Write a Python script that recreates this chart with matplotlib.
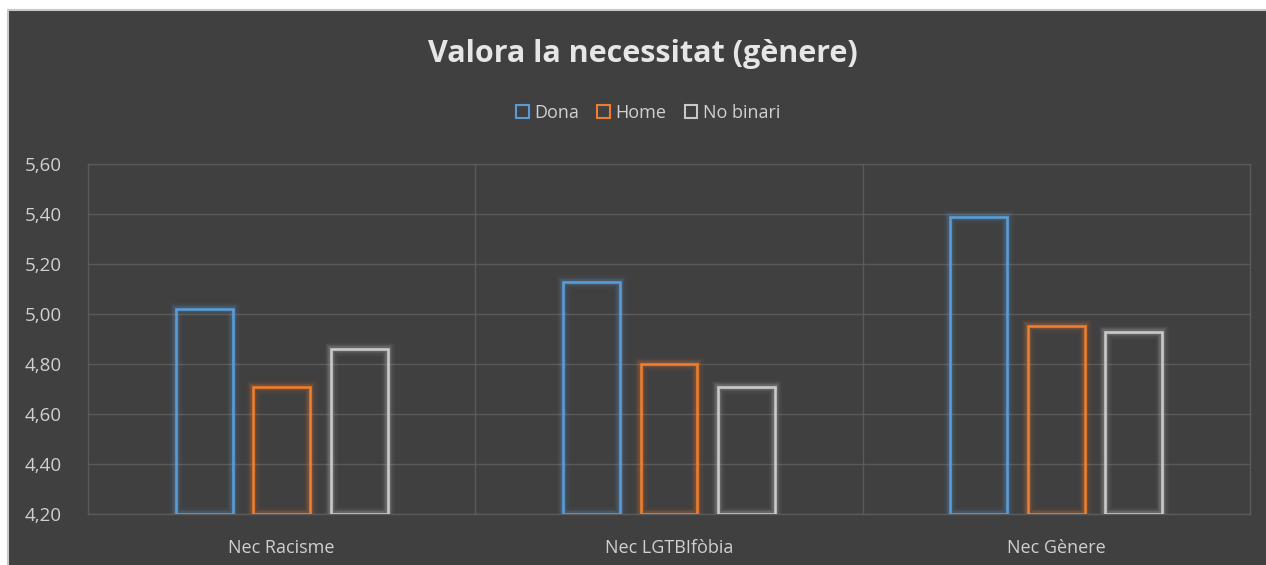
import numpy as np
import matplotlib
matplotlib.use("Agg")
import matplotlib.pyplot as plt
from matplotlib.patches import Patch
from matplotlib.lines import Line2D

categories = ["Nec Racisme", "Nec LGTBIfòbia", "Nec Gènere"]
series = ["Dona", "Home", "No binari"]
dona = [5.02, 5.13, 5.39]
home = [4.71, 4.80, 4.95]
no_binari = [4.86, 4.71, 4.93]
yticks = [4.20, 4.40, 4.60, 4.80, 5.00, 5.20, 5.40, 5.60]

colors = ["#5B9BD5", "#ED7D31", "#C9C9C9"]
bg = "#404040"
grid_col = "#5A5A5A"
text_col = "#D0D0D0"

plt.rcParams['font.family'] = ['Open Sans', 'DejaVu Sans']

fig = plt.figure(figsize=(12.66, 5.65), dpi=100, facecolor="white")
# chart background panel (screenshot had a light border on top/left)
left, top = 8 / 1266, 1 - 10 / 565
fig.patches.append(plt.Rectangle((left, 0), 1, top, transform=fig.transFigure,
                                 facecolor=bg, edgecolor="none", zorder=-10))
fig.lines.append(Line2D([left, left, 1], [0, top, top], transform=fig.transFigure,
                        color="#C8C8C8", linewidth=1.5, zorder=-5))

ax = fig.add_axes([88 / 1266, 51 / 565, 1162 / 1266, 350 / 565])
ax.set_facecolor(bg)

x = np.arange(len(categories))
width = 0.147
offset = 0.2
base = yticks[0]
for i, (vals, c) in enumerate(zip([dona, home, no_binari], colors)):
    pos = x + (i - 1) * offset
    h = np.array(vals) - base
    # soft glow
    for lw, a in [(9, 0.06), (6, 0.10), (4, 0.16)]:
        ax.bar(pos, h, width, bottom=base, facecolor="none",
               edgecolor=c, linewidth=lw, alpha=a, zorder=2)
    ax.bar(pos, h, width, bottom=base, facecolor="none",
           edgecolor=c, linewidth=1.9, zorder=3)

ax.set_ylim(4.20, 5.60)
ax.set_xlim(-0.5, len(categories) - 0.5)
ax.set_yticks(yticks)
ax.set_yticklabels([f"{v:.2f}".replace(".", ",") for v in yticks],
                   color=text_col, fontsize=13.5)
ax.set_xticks(x)
ax.set_xticklabels(categories, color=text_col, fontsize=13)
ax.set_xticks(x[:-1] + 0.5, minor=True)
ax.tick_params(axis="both", which="both", length=0)
ax.tick_params(axis="y", pad=19)
ax.tick_params(axis="x", pad=18)
ax.grid(axis="y", color=grid_col, linewidth=1)
ax.grid(axis="x", which="minor", color=grid_col, linewidth=1)
ax.set_axisbelow(True)
for s in ax.spines.values():
    s.set_color(grid_col)
    s.set_linewidth(1)

fig.text(0.508, 1 - 54 / 565, "Valora la necessitat (gènere)",
         ha="center", va="center", fontsize=22, fontweight="bold",
         color="#E6E6E6")

handles = [Patch(facecolor="none", edgecolor=c, linewidth=1.5) for c in colors]
fig.legend(handles, series, loc="center", bbox_to_anchor=(0.512, 1 - 113 / 565),
           ncol=3, frameon=False, fontsize=13, labelcolor=text_col,
           handlelength=0.7, handleheight=0.7, handletextpad=0.3,
           columnspacing=1.0)

fig.savefig("out.png", dpi=100, facecolor="white")
